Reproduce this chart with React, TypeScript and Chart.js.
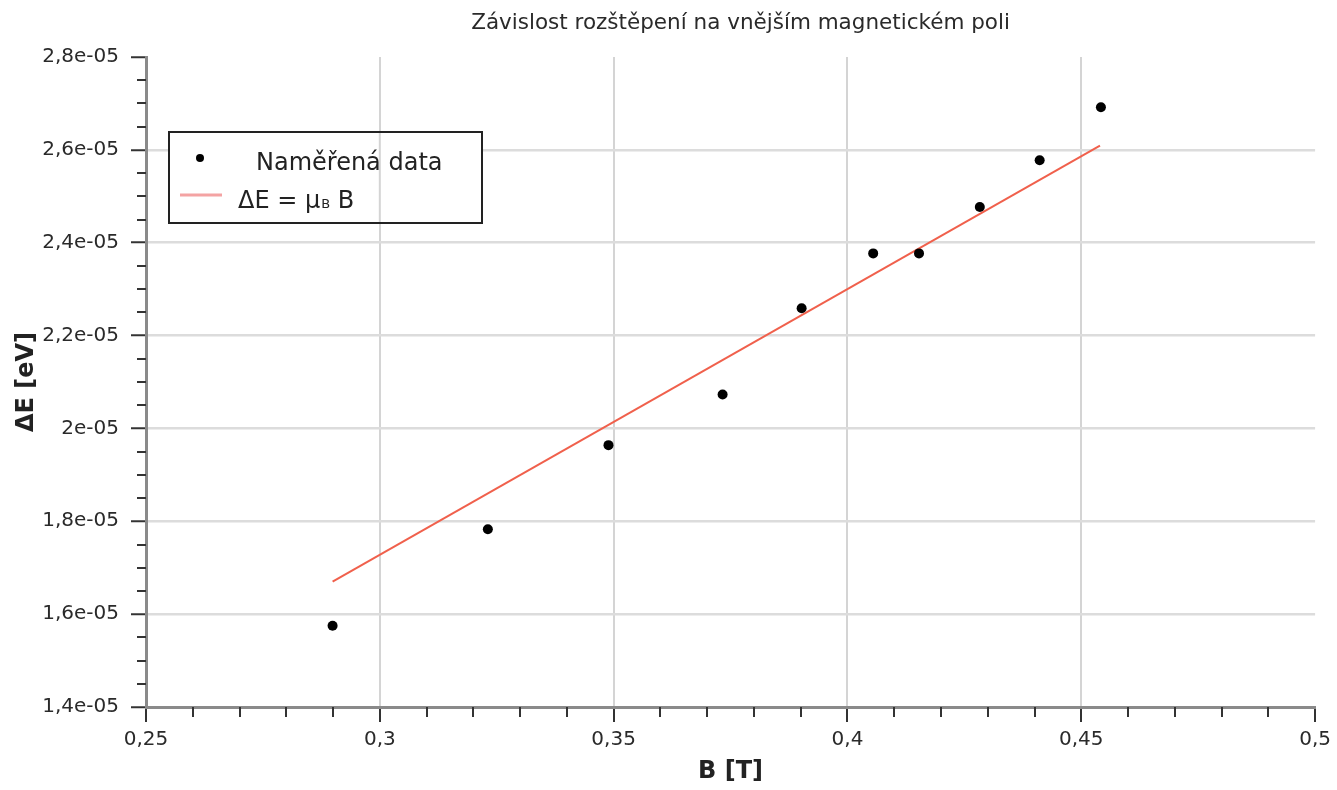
import React, { useEffect, useRef } from "react";
import { Chart, registerables } from "chart.js";

Chart.register(...registerables);

// ---- data ----
const TITLE = "Závislost rozštěpení na vnějším magnetickém poli";
const X_TITLE = "B [T]";
const Y_TITLE = "ΔE [eV]";
const SERIES_POINTS_LABEL = "Naměřená data";
const SERIES_LINE_LABEL = "ΔE = μB B";

const B_MEASURED = [0.2899, 0.3231, 0.3489, 0.3733, 0.3902, 0.4055, 0.4153, 0.4283, 0.4411, 0.4542];
const E_MEASURED = [1.575e-5, 1.783e-5, 1.964e-5, 2.073e-5, 2.259e-5, 2.377e-5, 2.377e-5, 2.477e-5, 2.5775e-5, 2.6916e-5];

const B_LINE = [0.2899, 0.454];
const E_LINE = [1.67e-5, 2.609e-5];

const X_MIN = 0.25;
const X_MAX = 0.5;
const X_STEP = 0.05;
const X_MINOR_DIVS = 5;

const Y_MIN = 1.4e-5;
const Y_MAX = 2.8e-5;
const Y_STEP = 0.2e-5;
const Y_MINOR_DIVS = 4;

// ---- styles ----
const FONT_FAMILY = "'DejaVu Sans', Verdana, sans-serif";
const TEXT_COLOR = "#2a2a2a";
const GRID_H_COLOR = "#dcdcdc";
const GRID_V_COLOR = "#d4d4d4";
const AXIS_COLOR = "#8a8a8a";
const TICK_COLOR = "#333";
const LINE_COLOR = "#f0604c";
const LEGEND_LINE_COLOR = "#f4a3a3";

function fmtSci(v: number): string {
  const s = Number(v.toPrecision(6)).toExponential();
  const [m, e] = s.split("e");
  const sign = e[0] === "-" ? "-" : "+";
  const digits = e.replace(/^[+-]/, "").padStart(2, "0");
  return m.replace(".", ",") + "e" + sign + digits;
}

function fmtDec(v: number): string {
  return Number(v.toFixed(4)).toString().replace(".", ",");
}

const titlePlugin = {
  id: "customTitle",
  afterDraw(chart: any) {
    const { ctx, chartArea } = chart;
    ctx.save();
    ctx.font = `21.5px ${FONT_FAMILY}`;
    ctx.fillStyle = TEXT_COLOR;
    ctx.textAlign = "center";
    ctx.textBaseline = "alphabetic";
    ctx.fillText(TITLE, (chartArea.left + chartArea.right) / 2 + 10, 29);
    ctx.restore();
  },
};

const minorTicksPlugin = {
  id: "minorTicks",
  afterDraw(chart: any) {
    const { ctx, chartArea, scales } = chart;
    ctx.save();
    ctx.strokeStyle = TICK_COLOR;
    ctx.lineWidth = 2;
    const nx = Math.round((X_MAX - X_MIN) / X_STEP) * X_MINOR_DIVS;
    for (let i = 0; i <= nx; i++) {
      if (i % X_MINOR_DIVS === 0) continue;
      const v = X_MIN + (i * X_STEP) / X_MINOR_DIVS;
      const px = Math.round(scales.x.getPixelForValue(v));
      ctx.beginPath();
      ctx.moveTo(px, chartArea.bottom);
      ctx.lineTo(px, chartArea.bottom + 10);
      ctx.stroke();
    }
    const ny = Math.round((Y_MAX - Y_MIN) / Y_STEP) * Y_MINOR_DIVS;
    for (let i = 0; i <= ny; i++) {
      if (i % Y_MINOR_DIVS === 0) continue;
      const v = Y_MIN + (i * Y_STEP) / Y_MINOR_DIVS;
      const py = Math.round(scales.y.getPixelForValue(v));
      ctx.beginPath();
      ctx.moveTo(chartArea.left - 9, py);
      ctx.lineTo(chartArea.left, py);
      ctx.stroke();
    }
    ctx.restore();
  },
};

const legendPlugin = {
  id: "boxLegend",
  afterDatasetsDraw(chart: any) {
    const { ctx, chartArea, scales } = chart;
    const x0 = chartArea.left + 22;
    const y0 = chartArea.top + 74;
    const w = 315;
    const h = 93;
    ctx.save();
    ctx.fillStyle = "#fff";
    ctx.fillRect(x0, y0, w, h);
    // vertical grid lines show through the legend in the reference
    ctx.save();
    ctx.beginPath();
    ctx.rect(x0, y0, w, h);
    ctx.clip();
    ctx.strokeStyle = GRID_V_COLOR;
    ctx.lineWidth = 2;
    scales.x.ticks.forEach((t: any) => {
      const px = scales.x.getPixelForValue(t.value);
      ctx.beginPath();
      ctx.moveTo(px, y0);
      ctx.lineTo(px, y0 + h);
      ctx.stroke();
    });
    ctx.restore();

    ctx.strokeStyle = "#222";
    ctx.lineWidth = 2;
    ctx.strokeRect(x0 + 1, y0 + 1, w - 2, h - 2);

    const labels = chart.data.datasets.map((d: any) => d.label);
    // item 1: point
    ctx.fillStyle = "#000";
    ctx.beginPath();
    ctx.arc(x0 + 32, y0 + 27, 4, 0, Math.PI * 2);
    ctx.fill();
    ctx.font = `24px ${FONT_FAMILY}`;
    ctx.fillStyle = "#222";
    ctx.textAlign = "left";
    ctx.textBaseline = "alphabetic";
    ctx.fillText(labels[0], x0 + 88, y0 + 39);

    // item 2: line
    ctx.strokeStyle = LEGEND_LINE_COLOR;
    ctx.lineWidth = 3;
    ctx.beginPath();
    ctx.moveTo(x0 + 12, y0 + 64);
    ctx.lineTo(x0 + 54, y0 + 64);
    ctx.stroke();
    const lbl: string = labels[1]; // "ΔE = μB B"
    const main = lbl.slice(0, 6); // "ΔE = μ"
    const sub = lbl.slice(6, 7); // "B"
    const rest = lbl.slice(7); // " B"
    let tx = x0 + 70;
    const by = y0 + 77;
    ctx.font = `24px ${FONT_FAMILY}`;
    ctx.fillText(main, tx, by);
    tx += ctx.measureText(main).width;
    ctx.font = `13px ${FONT_FAMILY}`;
    ctx.fillText(sub, tx + 1, by);
    tx += ctx.measureText(sub).width + 1;
    ctx.font = `24px ${FONT_FAMILY}`;
    ctx.fillText(rest, tx, by);
    ctx.restore();
  },
};

function isAt(v: number, target: number) {
  return Math.abs(v - target) <= Math.abs(target) * 1e-9;
}

export default function App() {
  const canvasRef = useRef<HTMLCanvasElement | null>(null);

  useEffect(() => {
    if (!canvasRef.current) return;
    const chart = new Chart(canvasRef.current, {
      type: "scatter",
      data: {
        datasets: [
          {
            label: SERIES_POINTS_LABEL,
            data: B_MEASURED.map((b, i) => ({ x: b, y: E_MEASURED[i] })),
            backgroundColor: "#000",
            borderColor: "#000",
            borderWidth: 0,
            pointRadius: 5,
            order: 1,
          },
          {
            label: SERIES_LINE_LABEL,
            type: "line",
            data: B_LINE.map((b, i) => ({ x: b, y: E_LINE[i] })),
            borderColor: LINE_COLOR,
            borderWidth: 2,
            pointRadius: 0,
            showLine: true,
            fill: false,
            order: 2,
          } as any,
        ],
      },
      options: {
        responsive: false,
        animation: false,
        layout: { padding: { top: 57, right: 17, left: 0, bottom: 0 } },
        plugins: {
          legend: { display: false },
          title: { display: false },
          tooltip: { enabled: false },
        },
        scales: {
          x: {
            type: "linear",
            min: X_MIN,
            max: X_MAX,
            afterFit: (scale: any) => {
              scale.height = 83;
            },
            ticks: {
              stepSize: X_STEP,
              color: TEXT_COLOR,
              font: { family: FONT_FAMILY, size: 20 },
              padding: 6,
              maxRotation: 0,
              callback: (v: any) => fmtDec(Number(v)),
            },
            grid: {
              color: (c: any) =>
                c.tick && (isAt(c.tick.value, X_MAX) || isAt(c.tick.value, X_MIN)) ? "rgba(0,0,0,0)" : GRID_V_COLOR,
              lineWidth: 2,
              tickLength: 15,
              tickColor: TICK_COLOR,
              tickWidth: 2,
            },
            border: { color: AXIS_COLOR, width: 3 },
            title: {
              display: true,
              text: X_TITLE,
              color: "#222",
              font: { family: FONT_FAMILY, size: 24, weight: "bold" },
              padding: { top: 0, bottom: 4 },
            },
          },
          y: {
            type: "linear",
            min: Y_MIN,
            max: Y_MAX,
            afterFit: (scale: any) => {
              scale.width = 146;
            },
            ticks: {
              stepSize: Y_STEP,
              color: TEXT_COLOR,
              font: { family: FONT_FAMILY, size: 20 },
              padding: 12,
              callback: (v: any) => fmtSci(Number(v)),
            },
            grid: {
              color: (c: any) =>
                c.tick && (isAt(c.tick.value, Y_MAX) || isAt(c.tick.value, Y_MIN)) ? "rgba(0,0,0,0)" : GRID_H_COLOR,
              lineWidth: 2.5,
              tickLength: 15,
              tickColor: TICK_COLOR,
              tickWidth: 2,
            },
            border: { color: AXIS_COLOR, width: 3 },
            title: {
              display: true,
              text: Y_TITLE,
              color: "#222",
              font: { family: FONT_FAMILY, size: 24, weight: "bold" },
              padding: { top: 12, bottom: 0 },
            },
          },
        },
      },
      plugins: [titlePlugin, minorTicksPlugin, legendPlugin],
    });
    return () => chart.destroy();
  }, []);

  return (
    <div style={{ position: "absolute", left: 0, top: 0, width: 1337, height: 790, background: "#fff" }}>
      <canvas ref={canvasRef} width={1337} height={790} style={{ display: "block" }} />
    </div>
  );
}
